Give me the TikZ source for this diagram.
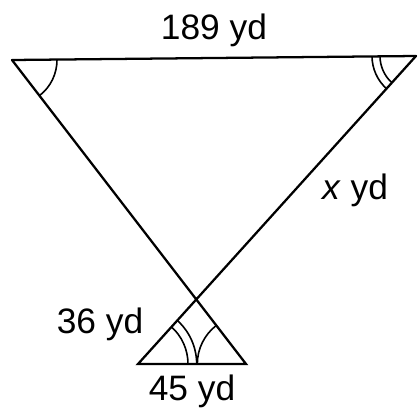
\documentclass[tikz,border=0pt]{standalone}
\usepackage{fontspec}
\setmainfont{Liberation Sans}
\usetikzlibrary{angles}
\begin{document}
\begin{tikzpicture}[x=0.75pt,y=-0.75pt,
  edge/.style={line width=1.7pt,line cap=round},
  ang/.style={draw,line width=1.2pt},
  lbl/.style={font=\fontsize{26.5}{30}\selectfont,inner sep=0pt}]
\useasboundingbox (0,0) rectangle (419,415);
\coordinate (A) at (12,60);
\coordinate (B) at (416,56);
\coordinate (D) at (138,364);
\coordinate (E) at (246,364);
\coordinate (C) at (intersection of A--E and B--D);
\draw[edge] (A) -- (B);
\draw[edge] (A) -- (E) -- (D) -- (B);
\pic[ang,angle radius=33.75pt] {angle=C--A--B};
\pic[ang,angle radius=27pt] {angle=A--B--C};
\pic[ang,angle radius=33pt] {angle=A--B--C};
\pic[ang,angle radius=37.5pt] {angle=E--D--C};
\pic[ang,angle radius=44pt] {angle=E--D--C};
\pic[ang,angle radius=36.5pt] {angle=C--E--D};
\node[lbl] (t1) at (214,30) {189 yd};
\node[lbl] (t2) at (355,190) {\textit{x} yd};
\node[lbl] (t3) at (100,324) {36 yd};
\node[lbl] (t4) at (192,391) {45 yd};
\end{tikzpicture}
\end{document}
